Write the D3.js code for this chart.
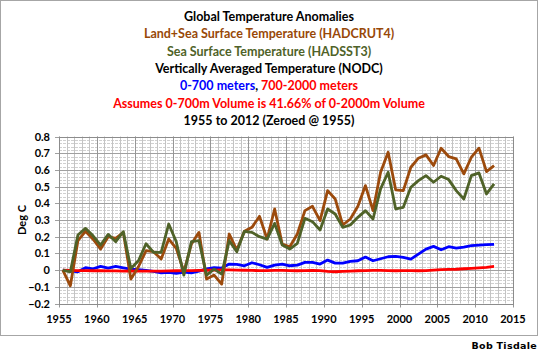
<!DOCTYPE html>
<html><head><meta charset="utf-8">
<script src="https://cdn.jsdelivr.net/npm/d3@7"></script>
<style>html,body{margin:0;padding:0;background:#fff}svg{display:block}</style>
</head><body>
<svg id="c" width="540" height="352"></svg>
<script>
const years = d3.range(1955, 2013);
const hadcrut4 = [0,-0.094,0.176,0.232,0.185,0.126,0.20,0.19,0.226,-0.054,0.02,0.116,0.11,0.066,0.186,0.13,-0.01,0.156,0.226,-0.054,-0.03,-0.084,0.216,0.12,0.232,0.256,0.322,0.186,0.366,0.156,0.14,0.216,0.356,0.382,0.296,0.476,0.426,0.27,0.306,0.382,0.506,0.356,0.586,0.706,0.48,0.476,0.616,0.67,0.69,0.626,0.73,0.68,0.666,0.576,0.676,0.73,0.59,0.626];
const hadsst3 = [0,-0.01,0.21,0.25,0.205,0.15,0.214,0.17,0.23,0.01,0.056,0.158,0.106,0.106,0.276,0.17,-0.03,0.17,0.176,-0.03,0.006,-0.024,0.176,0.11,0.232,0.226,0.2,0.186,0.28,0.15,0.126,0.16,0.31,0.29,0.24,0.366,0.336,0.256,0.27,0.316,0.356,0.306,0.486,0.586,0.366,0.376,0.496,0.536,0.566,0.526,0.562,0.542,0.476,0.426,0.566,0.582,0.456,0.516];
const nodc0700 = [0,-0.005,-0.01,0.014,0.008,0.022,0.012,0.022,0.014,0.006,0.002,-0.002,-0.008,-0.016,-0.014,-0.02,-0.012,-0.016,-0.006,0.008,0.014,0.012,0.036,0.034,0.026,0.044,0.032,0.016,0.03,0.036,0.026,0.03,0.046,0.046,0.036,0.06,0.042,0.042,0.052,0.056,0.078,0.056,0.068,0.08,0.082,0.076,0.066,0.096,0.126,0.142,0.122,0.14,0.132,0.138,0.146,0.15,0.152,0.154];
const nodc7002000 = [0,-0.002,-0.003,-0.003,-0.004,-0.004,-0.005,-0.005,-0.006,-0.005,-0.006,-0.006,-0.006,-0.006,-0.005,-0.004,-0.003,-0.003,-0.002,-0.001,0,0.001,0.001,0,-0.001,-0.002,-0.003,-0.003,-0.002,-0.002,-0.003,-0.004,-0.003,-0.002,-0.003,-0.008,-0.01,-0.008,-0.006,-0.004,-0.003,-0.002,-0.002,-0.003,-0.004,-0.003,-0.003,-0.004,-0.003,0,0.003,0.004,0.005,0.008,0.01,0.013,0.016,0.022];
const xTicks = [1955,1960,1965,1970,1975,1980,1985,1990,1995,2000,2005,2010,2015];
const yTicks = [-0.2,-0.1,0,0.1,0.2,0.3,0.4,0.5,0.6,0.7,0.8];
const titleLines = [
  [["Global Temperature Anomalies","#000"]],
  [["Land+Sea Surface Temperature (HADCRUT4)","#984807"]],
  [["Sea Surface Temperature (HADSST3)","#4f6228"]],
  [["Vertically Averaged Temperature (NODC)","#000"]],
  [["0-700 meters","#0000ff"],[", ","#000"],["700-2000 meters","#ff0000"]],
  [["Assumes 0-700m Volume is 41.66% of 0-2000m Volume","#ff0000"]],
  [["1955 to 2012 (Zeroed @ 1955)","#000"]]
];

const svg = d3.select("#c");
const L = 59, R = 513, T = 136.5, B = 303.5;
const x = d3.scaleLinear().domain([1955, 2015]).range([L, R]);
const y = d3.scaleLinear().domain([-0.2, 0.8]).range([B, T]);

svg.append("rect").attr("x",0.5).attr("y",0.5).attr("width",537).attr("height",335)
  .attr("fill","#fff").attr("stroke","#a6a6a6").attr("stroke-width",1);

const g = svg.append("g");
d3.range(-0.2, 0.8001, 0.02).forEach(v => {
  const yy = Math.round(y(v)) + 0.5;
  g.append("line").attr("x1",L).attr("x2",R).attr("y1",yy).attr("y2",yy)
   .attr("stroke","#d0d0d0").attr("stroke-dasharray","3,1");
});
d3.range(1955, 2016, 1).forEach(yr => {
  const xx = Math.round(x(yr)) + 0.5;
  g.append("line").attr("x1",xx).attr("x2",xx).attr("y1",T).attr("y2",B)
   .attr("stroke","#c4c4c4");
});
yTicks.forEach(v => {
  const yy = Math.round(y(v)) + 0.5;
  g.append("line").attr("x1",L-4).attr("x2",R).attr("y1",yy).attr("y2",yy)
   .attr("stroke","#a0a0a0");
});
xTicks.forEach(yr => {
  const xx = Math.round(x(yr)) + 0.5;
  g.append("line").attr("x1",xx).attr("x2",xx).attr("y1",T).attr("y2",B+4)
   .attr("stroke","#969696");
});
svg.append("rect").attr("x",L+0.5).attr("y",Math.round(T)+0.5).attr("width",R-L).attr("height",Math.round(B)-Math.round(T))
  .attr("fill","none").attr("stroke","#8c8c8c");

svg.append("g").selectAll("text").data(yTicks).join("text")
  .attr("x",50).attr("y",d=>y(d)+4).attr("text-anchor","end")
  .attr("font-family","Lato, 'Open Sans', sans-serif").attr("font-weight","bold").attr("font-size","11px")
  .text(d=>d3.format("")(+d.toFixed(1)));
svg.append("g").selectAll("text").data(xTicks).join("text")
  .attr("x",d=>x(d)).attr("y",323).attr("text-anchor","middle")
  .attr("font-family","Lato, 'Open Sans', sans-serif").attr("font-weight","bold").attr("font-size","11px")
  .text(d=>d);
svg.append("text").attr("transform","translate(26,220) rotate(-90)").attr("text-anchor","middle")
  .attr("font-family","Lato, 'Open Sans', sans-serif").attr("font-weight","bold").attr("font-size","11px")
  .text("Deg C");

const series = [
  {v: nodc7002000, c:"#ff0000"},
  {v: nodc0700, c:"#0000ff"},
  {v: hadcrut4, c:"#9c4a0c"},
  {v: hadsst3, c:"#4f6228"}
];
const line = d3.line().x(d=>x(d[0]+0.5)).y(d=>y(d[1]));
[series[1], series[0], series[2], series[3]].forEach(s => {
  svg.append("path").datum(years.map((yr,i)=>[yr, s.v[i]]))
    .attr("d", line).attr("fill","none").attr("stroke", s.c)
    .attr("stroke-width", 2.8).attr("stroke-linejoin","round");
});

titleLines.forEach((parts, i) => {
  const t = svg.append("text").attr("x",269).attr("y",21 + i*17.3).attr("text-anchor","middle")
    .attr("font-family","Lato, 'Open Sans', sans-serif").attr("font-weight","bold").attr("font-size","12.5px");
  parts.forEach(p => t.append("tspan").attr("fill",p[1]).text(p[0]));
});

svg.append("text").attr("x",537).attr("y",348.5).attr("text-anchor","end")
  .attr("font-family","'DejaVu Sans', Verdana, sans-serif").attr("font-weight","bold").attr("font-size","9.5px")
  .attr("letter-spacing","0.3px")
  .text("Bob Tisdale");
</script>
</body></html>
